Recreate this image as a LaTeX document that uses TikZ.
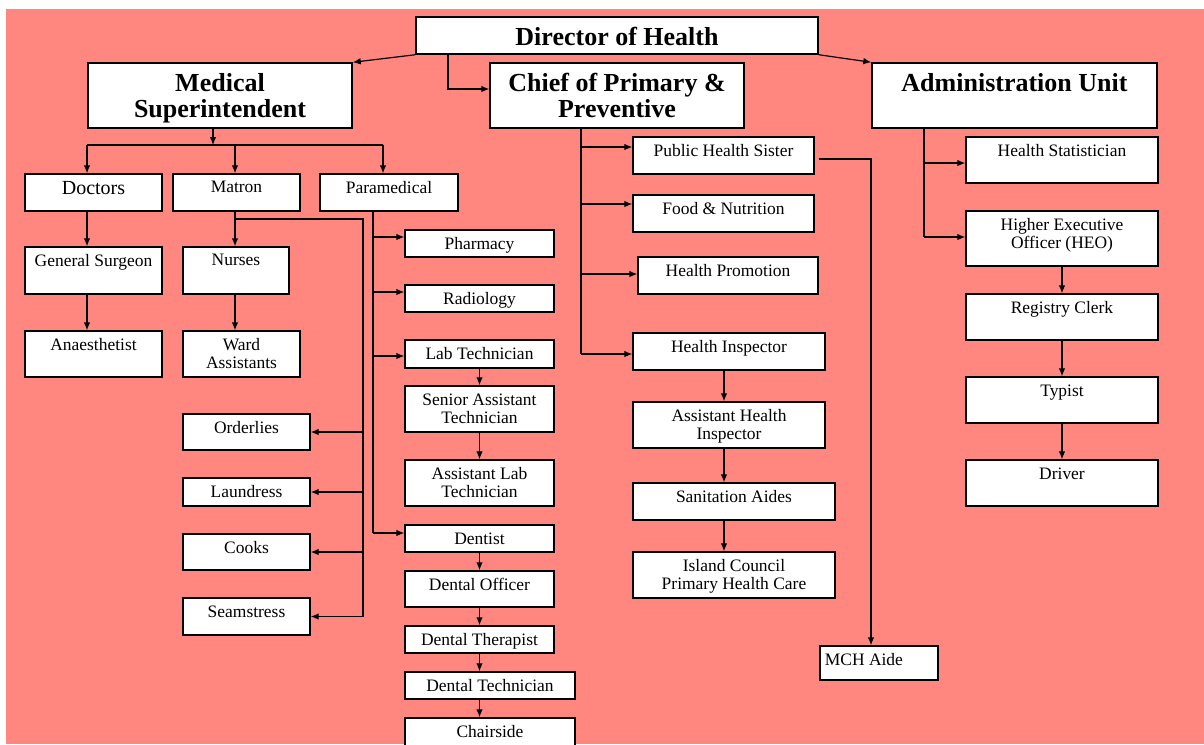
\documentclass[tikz,border=0pt]{standalone}
\usepackage{fontspec}
\setmainfont{Liberation Serif}
\usepackage{xcolor}
\usepackage{tikz}
\usetikzlibrary{arrows.meta,fit}

\definecolor{bgsalmon}{RGB}{255,135,128}

\tikzset{
  box/.style={draw=black, fill=white, line width=1.1pt, inner sep=0pt},
  txt/.style={anchor=north, align=center, inner xsep=0pt, inner ysep=6pt,
    font=\fontsize{13.1}{13.6}\selectfont},
  bigtxt/.style={txt, font=\fontsize{15}{15}\selectfont},
  headtxt/.style={txt, inner ysep=8pt, font=\fontsize{19.5}{19.5}\selectfont\bfseries},
  conn/.style={draw=black, line width=0.9pt},
  arr/.style={conn, -{Latex[length=6pt,width=5pt]}},
}

\begin{document}
\begin{tikzpicture}[x=0.75pt,y=0.75pt,yscale=-1,xscale=1]
\useasboundingbox (0,0) rectangle (1204,744);
\clip (0,0) rectangle (1204,744);
%Background
\fill[bgsalmon] (6,9) rectangle (1204,744);

%Top level
\node[box, fit={(416,17) (818,54)}, label={[headtxt]north:Director of Health}] (dir) {};
\node[box, fit={(88,63) (352,128)}, label={[headtxt]north:Medical\\Superintendent}] (ms) {};
\node[box, fit={(490,63) (744,128)}, label={[headtxt]north:Chief of Primary \&\\Preventive}] (chief) {};
\node[box, fit={(872,63) (1157,128)}, label={[headtxt]north:Administration Unit}] (adm) {};

%Medical Superintendent boxes
\node[box, fit={(25,174) (162,211)}, label={[bigtxt]north:Doctors}] (doc) {};
\node[box, fit={(173,174) (300,211)}, label={[txt]north:Matron}] (mat) {};
\node[box, fit={(320,174) (458,211)}, label={[txt]north:Paramedical}] (par) {};
\node[box, fit={(25,247) (162,294)}, label={[txt]north:General Surgeon}] (gs) {};
\node[box, fit={(183,247) (289,294)}, label={[txt]north:Nurses}] (nur) {};
\node[box, fit={(25,331) (162,377)}, label={[txt]north:Anaesthetist}] (ana) {};
\node[box, fit={(183,331) (300,377)}, label={[txt]north:Ward\\Assistants}] (ward) {};
\node[box, fit={(183,414) (310,450)}, label={[txt]north:Orderlies}] (ord) {};
\node[box, fit={(183,478) (310,506)}, label={[txt]north:Laundress}] (lau) {};
\node[box, fit={(183,534) (310,570)}, label={[txt]north:Cooks}] (cook) {};
\node[box, fit={(183,598) (310,635)}, label={[txt]north:Seamstress}] (seam) {};
\node[box, fit={(405,230) (554,257)}, label={[txt]north:Pharmacy}] (pha) {};
\node[box, fit={(405,285) (554,312)}, label={[txt]north:Radiology}] (rad) {};
\node[box, fit={(405,340) (554,368)}, label={[txt]north:Lab Technician}] (lab) {};
\node[box, fit={(405,386) (554,432)}, label={[txt]north:Senior Assistant\\Technician}] (sat) {};
\node[box, fit={(405,460) (554,506)}, label={[txt]north:Assistant Lab\\Technician}] (alt) {};
\node[box, fit={(405,525) (554,552)}, label={[txt]north:Dentist}] (den) {};
\node[box, fit={(405,571) (554,607)}, label={[txt]north:Dental Officer}] (dof) {};
\node[box, fit={(405,626) (554,653)}, label={[txt]north:Dental Therapist}] (dth) {};
\node[box, fit={(405,672) (575,699)}, label={[txt]north:Dental Technician}] (dtc) {};
\node[box, fit={(405,718) (575,770)}, label={[txt]north:Chairside}] (chs) {};

%Primary and Preventive boxes
\node[box, fit={(633,137) (814,174)}, label={[txt]north:Public Health Sister}] (phs) {};
\node[box, fit={(633,195) (814,232)}, label={[txt]north:Food \& Nutrition}] (food) {};
\node[box, fit={(638,257) (818,294)}, label={[txt]north:Health Promotion}] (hp) {};
\node[box, fit={(633,333) (825,370)}, label={[txt]north:Health Inspector}] (hi) {};
\node[box, fit={(633,402) (825,448)}, label={[txt]north:Assistant Health\\Inspector}] (ahi) {};
\node[box, fit={(633,483) (835,520)}, label={[txt]north:Sanitation Aides}] (san) {};
\node[box, fit={(633,552) (835,598)}, label={[txt]north:Island Council\\Primary Health Care}] (icp) {};
\node[box, fit={(820,646) (938,680)}, label={[txt, anchor=north west, inner xsep=4pt]north west:MCH Aide}] (mch) {};

%Administration boxes
\node[box, fit={(966,137) (1158,183)}, label={[txt]north:Health Statistician}] (hs) {};
\node[box, fit={(966,211) (1158,266)}, label={[txt]north:Higher Executive\\Officer (HEO)}] (heo) {};
\node[box, fit={(966,294) (1158,340)}, label={[txt]north:Registry Clerk}] (reg) {};
\node[box, fit={(966,377) (1158,423)}, label={[txt]north:Typist}] (typ) {};
\node[box, fit={(966,460) (1158,506)}, label={[txt]north:Driver}] (drv) {};

%Director to units
\coordinate (dc) at (448,89);
\draw[arr] (dir.south west) -- (ms.north east);
\draw[arr] (dir.south east) -- (adm.north west);
\draw[arr] (dir.south -| dc) -- (dc) -- (chief.west |- dc);

%Medical Superintendent bus
\coordinate (msb) at (213,145);
\coordinate (bdoc) at (87,145);
\coordinate (bmat) at (235,145);
\coordinate (bpar) at (383,145);
\draw[arr] (ms.south -| msb) -- (msb);
\draw[conn] (bdoc) -- (bpar);
\draw[arr] (bdoc) -- (doc.north -| bdoc);
\draw[arr] (bmat) -- (mat.north -| bmat);
\draw[arr] (bpar) -- (par.north -| bpar);
\draw[arr] (doc.south -| bdoc) -- (gs.north -| bdoc);
\draw[arr] (gs.south -| bdoc) -- (ana.north -| bdoc);
\draw[arr] (mat.south -| bmat) -- (nur.north -| bmat);
\draw[arr] (nur.south -| bmat) -- (ward.north -| bmat);

%Matron side line
\coordinate (mt) at (235,219);
\coordinate (mc) at (363,219);
\draw[conn] (mt) -- (mc) -- (mc |- seam.east);
\draw[arr] (mc |- ord.east) -- (ord.east);
\draw[arr] (mc |- lau.east) -- (lau.east);
\draw[arr] (mc |- cook.east) -- (cook.east);
\draw[arr] (mc |- seam.east) -- (seam.east);

%Paramedical line
\coordinate (pbpha) at (373,237);
\coordinate (pbrad) at (373,292);
\coordinate (pblab) at (373,356);
\coordinate (pbden) at (373,533);
\draw[conn] (par.south -| pbden) -- (pbden);
\draw[arr] (pbpha) -- (pbpha -| pha.west);
\draw[arr] (pbrad) -- (pbrad -| rad.west);
\draw[arr] (pblab) -- (pblab -| lab.west);
\draw[arr] (pbden) -- (pbden -| den.west);
\draw[arr] (lab.south) -- (sat.north);
\draw[arr] (sat.south) -- (alt.north);
\draw[arr] (den.south) -- (dof.north);
\draw[arr] (dof.south) -- (dth.north);
\draw[arr] (dth.south) -- (dth.south |- dtc.north);
\draw[arr] (dtc.south -| dth.south) -- (chs.north -| dth.south);

%Primary and Preventive line
\coordinate (cbphs) at (581,147);
\coordinate (cbfood) at (581,204);
\coordinate (cbhp) at (581,274);
\coordinate (cbhi) at (581,354);
\coordinate (hix) at (724,0);
\draw[conn] (chief.south -| cbhi) -- (cbhi);
\draw[arr] (cbphs) -- (cbphs -| phs.west);
\draw[arr] (cbfood) -- (cbfood -| food.west);
\draw[arr] (cbhp) -- (cbhp -| hp.west);
\draw[arr] (cbhi) -- (cbhi -| hi.west);
\draw[arr] (hi.south -| hix) -- (ahi.north -| hix);
\draw[arr] (ahi.south -| hix) -- (san.north -| hix);
\draw[arr] (san.south -| hix) -- (icp.north -| hix);

%Public Health Sister to MCH Aide
\coordinate (mh1) at (819,159);
\coordinate (mh2) at (871,159);
\draw[arr] (mh1) -- (mh2) -- (mh2 |- mch.north);

%Administration line
\coordinate (abhs) at (924,163);
\coordinate (abheo) at (924,237);
\draw[conn] (adm.south -| abheo) -- (abheo);
\draw[arr] (abhs) -- (abhs -| hs.west);
\draw[arr] (abheo) -- (abheo -| heo.west);
\draw[arr] (heo.south) -- (reg.north);
\draw[arr] (reg.south) -- (typ.north);
\draw[arr] (typ.south) -- (drv.north);
\end{tikzpicture}
\end{document}
